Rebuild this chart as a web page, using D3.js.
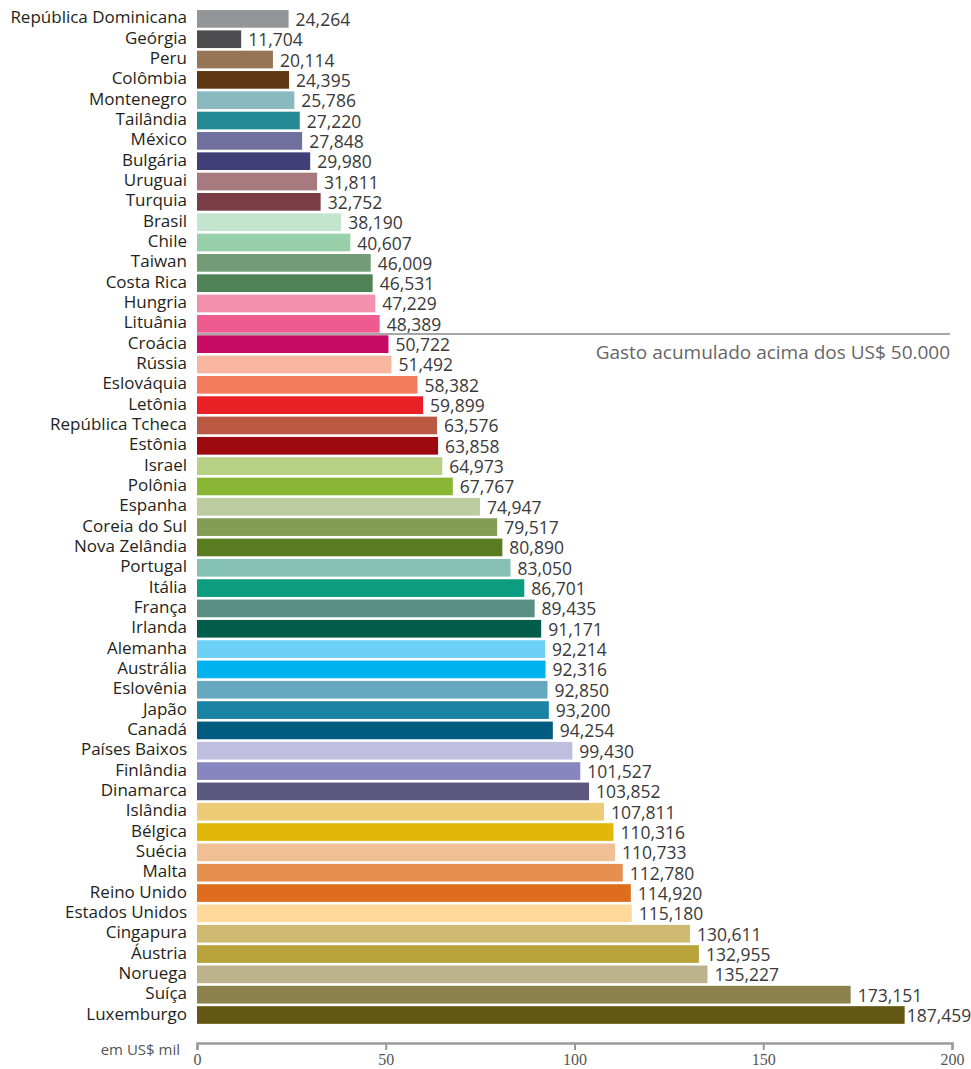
<!DOCTYPE html>
<html>
<head>
<meta charset="utf-8">
<script src="https://cdn.jsdelivr.net/npm/d3@7"></script>
<style>
  body { margin: 0; background: #fff; }
  text { font-family: "Open Sans", "Noto Sans", sans-serif; }
</style>
</head>
<body>
<svg id="chart"></svg>
<script>
const countries = ["República Dominicana", "Geórgia", "Peru", "Colômbia", "Montenegro", "Tailândia",
  "México", "Bulgária", "Uruguai", "Turquia", "Brasil", "Chile", "Taiwan", "Costa Rica", "Hungria",
  "Lituânia", "Croácia", "Rússia", "Eslováquia", "Letônia", "República Tcheca", "Estônia", "Israel",
  "Polônia", "Espanha", "Coreia do Sul", "Nova Zelândia", "Portugal", "Itália", "França", "Irlanda",
  "Alemanha", "Austrália", "Eslovênia", "Japão", "Canadá", "Países Baixos", "Finlândia", "Dinamarca",
  "Islândia", "Bélgica", "Suécia", "Malta", "Reino Unido", "Estados Unidos", "Cingapura", "Áustria",
  "Noruega", "Suíça", "Luxemburgo"];

const values = [24.264, 11.704, 20.114, 24.395, 25.786, 27.220, 27.848, 29.980, 31.811, 32.752,
  38.190, 40.607, 46.009, 46.531, 47.229, 48.389, 50.722, 51.492, 58.382, 59.899, 63.576, 63.858,
  64.973, 67.767, 74.947, 79.517, 80.890, 83.050, 86.701, 89.435, 91.171, 92.214, 92.316, 92.850,
  93.200, 94.254, 99.430, 101.527, 103.852, 107.811, 110.316, 110.733, 112.780, 114.920, 115.180,
  130.611, 132.955, 135.227, 173.151, 187.459];

const barColors = ["#939598", "#4d4d4f", "#967556", "#603813", "#89b8bf", "#238a93", "#716f9e",
  "#403f78", "#a67a7e", "#7a3d46", "#c4e5cd", "#96cfa8", "#739b75", "#4f8256", "#f390ae", "#ef5b8e",
  "#c80b66", "#f8b6a0", "#f37c5f", "#e92026", "#bb5a43", "#9e0910", "#b6d084", "#8ab636", "#bccba0",
  "#839d56", "#5a7c20", "#85c2b5", "#0c9c80", "#5a9083", "#025e4b", "#6dd0f6", "#00b2ed", "#67a8c1",
  "#1a83a3", "#015b7e", "#bfbedf", "#8886be", "#5b587e", "#eecc77", "#e3b60c", "#f1bf94", "#e78f4e",
  "#de6e1e", "#fed999", "#cebb71", "#b9a33b", "#bcb38e", "#8c814d", "#635713"];

const xTicks = [0, 50, 100, 150, 200];
const thresholdCountry = "Croácia";
const thresholdLabel = "Gasto acumulado acima dos US$ 50.000";
const unitLabel = "em US$ mil";

const svgWidth = 971, svgHeight = 1069;

const chart = d3.select("#chart")
    .attr("width", svgWidth)
    .attr("height", svgHeight);

const data = countries.map((c, i) => ({name: c, value: values[i], color: barColors[i]}));

var xScale = d3.scaleLinear().domain([0, 200]).range([197, 952]);
var yScale = d3.scaleBand().domain(countries).range([7.4, 1026.5]).padding(0.13);

// bars
chart.append("g").selectAll("rect")
    .data(data)
    .enter()
    .append("rect")
    .attr("x", xScale(0))
    .attr("y", d => yScale(d.name))
    .attr("width", d => xScale(d.value) - xScale(0))
    .attr("height", yScale.bandwidth())
    .attr("fill", d => d.color);

// country names
chart.append("g").selectAll("text")
    .data(data)
    .enter()
    .append("text")
    .attr("x", 187)
    .attr("y", d => yScale(d.name) + yScale.bandwidth() / 2 + 4.5)
    .attr("text-anchor", "end")
    .style("font-size", "17px")
    .style("fill", "#231f20")
    .text(d => d.name);

// value labels, pushed back in if they run off the right edge
chart.append("g").selectAll("text")
    .data(data)
    .enter()
    .append("text")
    .attr("y", d => yScale(d.name) + yScale.bandwidth() / 2 + 7)
    .attr("text-anchor", "start")
    .style("font-size", "17.5px")
    .style("fill", "#3a3a3a")
    .text(d => d3.format(",.3f")(d.value).replace(".", ","))
    .attr("x", function(d) {
        var x = xScale(d.value) + 7;
        var w = this.getComputedTextLength();
        if (x + w > svgWidth - 1) x = Math.max(xScale(d.value) + 2, svgWidth - 1 - w);
        return x;
    });

// threshold line
var sepY = yScale(thresholdCountry) - yScale.step() * yScale.paddingInner() / 2;
chart.append("line")
    .attr("x1", xScale(0))
    .attr("x2", xScale(199.5))
    .attr("y1", sepY)
    .attr("y2", sepY)
    .style("stroke", "#8a8a8a")
    .style("stroke-width", 1.6);

chart.append("text")
    .attr("x", xScale(199.5))
    .attr("y", sepY + 25)
    .attr("text-anchor", "end")
    .style("font-size", "19px")
    .style("fill", "#666")
    .text(thresholdLabel);

// x axis
var xAxis = d3.axisBottom(xScale).tickValues(xTicks).tickSize(7).tickSizeOuter(7).tickPadding(4);
var axisG = chart.append("g")
    .attr("transform", "translate(0,1043)")
    .call(xAxis);
axisG.select(".domain").style("stroke", "#9a9a9a").style("stroke-width", 2.5);
axisG.selectAll(".tick line").style("stroke", "#9a9a9a").style("stroke-width", 2);
axisG.selectAll(".tick text")
    .style("font-family", "'Liberation Serif', serif")
    .style("font-size", "16px")
    .style("fill", "#555");

chart.append("text")
    .attr("x", 180)
    .attr("y", 1055)
    .attr("text-anchor", "end")
    .style("font-size", "15px")
    .style("fill", "#555")
    .text(unitLabel);
</script>
</body>
</html>
